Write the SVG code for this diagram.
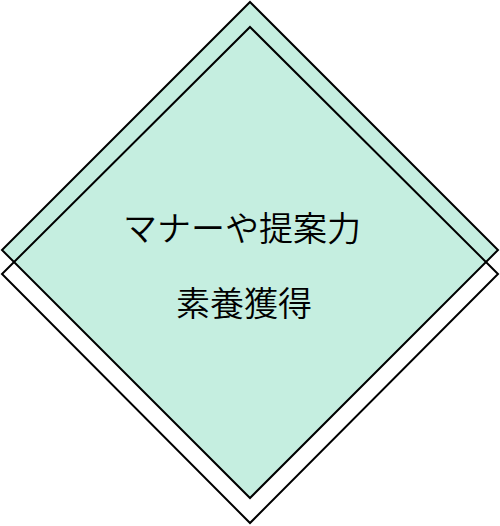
<svg xmlns="http://www.w3.org/2000/svg" width="500" height="526" viewBox="0 0 500 526">
<style>
.d{stroke:#000;stroke-width:2;stroke-linejoin:miter}
.t{font-family:"Noto Sans CJK JP","Noto Sans CJK SC",sans-serif;font-size:34px;font-weight:350;fill:#000;text-anchor:middle}
</style>
<rect width="500" height="526" fill="#fff"/>
<g id="back">
<polygon class="d" points="250,2 498,250 250,498 2,250" fill="#c5eee0"/>
</g>
<g id="front">
<polygon class="d" points="250,27 498,274 250,523 2,274" fill="none"/>
</g>
<g id="label">
<text class="t" x="242" y="241">マナーや提案力</text>
<text class="t" x="244" y="316">素養獲得</text>
</g>
</svg>
